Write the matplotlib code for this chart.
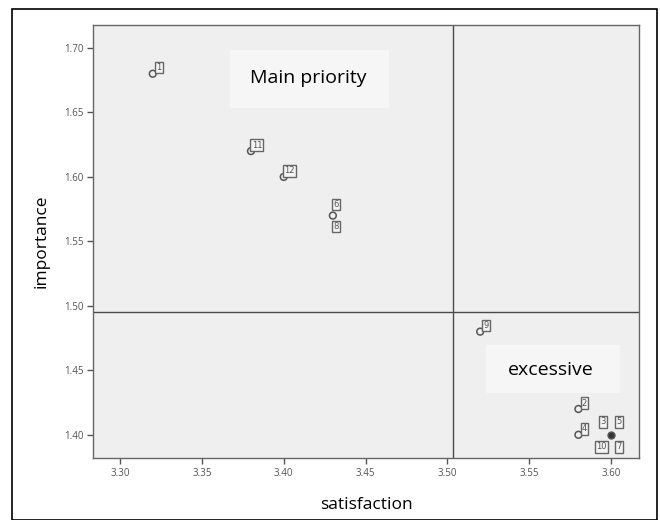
import matplotlib
matplotlib.use("Agg")
import matplotlib.pyplot as plt
from matplotlib.patches import Rectangle
import numpy as np
from collections import Counter

labels = ["1", "11", "12", "6", "8", "9", "2", "4", "3", "5", "10", "7"]
satisfaction = [3.32, 3.38, 3.40, 3.43, 3.43, 3.52, 3.58, 3.58, 3.60, 3.60, 3.60, 3.60]
importance = [1.68, 1.62, 1.60, 1.57, 1.57, 1.48, 1.42, 1.40, 1.40, 1.40, 1.40, 1.40]
x_ticks = [3.30, 3.35, 3.40, 3.45, 3.50, 3.55, 3.60]
y_ticks = [1.40, 1.45, 1.50, 1.55, 1.60, 1.65, 1.70]
x_label = "satisfaction"
y_label = "importance"
quadrant_texts = ["Main priority", "excessive"]

plt.rcParams['font.family'] = ['Open Sans', 'DejaVu Sans']

fig = plt.figure(figsize=(6.6, 5.2), dpi=100)
fig.patch.set_facecolor("white")
ax = fig.add_axes([93/660, 1-458/520, (639-93)/660, (458-25)/520])
ax.set_facecolor("#efefef")

# outer border
fig.patches.append(Rectangle((12/660, 0.0), (657-12)/660, 1-9/520, transform=fig.transFigure,
                             fill=False, edgecolor="black", lw=1.2))

ax.set_xlim(3.2835, 3.617)
ax.set_ylim(1.382, 1.7178)

mx = np.mean(satisfaction)
my = np.mean(importance)
ax.axvline(mx, color="#4a4a4a", lw=1.0, zorder=1)
ax.axhline(my, color="#4a4a4a", lw=1.0, zorder=1)

counts = Counter(zip(satisfaction, importance))
for xv, yv in counts:
    n = counts[(xv, yv)]
    fc = "#333333" if n >= 3 else "none"
    ax.scatter([xv], [yv], s=24, facecolors=fc, edgecolors="#555555", linewidths=1.1, zorder=3)

offsets = {"6": (3, 11), "8": (3, -11), "3": (-8, 13), "5": (8, 13), "10": (-10, -12), "7": (8, -12)}
for lab, xv, yv in zip(labels, satisfaction, importance):
    dx, dy = offsets.get(lab, (6, 6))
    ax.annotate(lab, (xv, yv), xytext=(dx, dy), textcoords="offset pixels",
                ha="center", va="center", fontsize=6, color="#555555",
                family=["DejaVu Sans"],
                bbox=dict(boxstyle="square,pad=0.15", fc="#f4f4f4", ec="#666666", lw=1.0),
                zorder=4)

# quadrant annotation boxes
ax.add_patch(Rectangle((3.3673, 1.6535), 3.464 - 3.3673, 1.6984 - 1.6535,
                       fc="#f6f6f6", ec="none", zorder=2))
ax.add_patch(Rectangle((3.5234, 1.4326), 3.6055 - 3.5234, 1.4698 - 1.4326,
                       fc="#f6f6f6", ec="none", zorder=2))
ax.text(3.415, 1.6767, quadrant_texts[0], ha="center", va="center", fontsize=14, color="black", zorder=2.5)
ax.text(3.5633, 1.4504, quadrant_texts[1], ha="center", va="center", fontsize=14, color="black", zorder=2.5)

ax.set_xticks(x_ticks)
ax.set_xticklabels([f"{v:.2f}" for v in x_ticks])
ax.set_yticks(y_ticks)
ax.set_yticklabels([f"{v:.2f}" for v in y_ticks])
ax.tick_params(axis="both", direction="out", length=4, width=1, color="#555555",
               labelsize=7, labelcolor="#555555", pad=3)
for sp in ax.spines.values():
    sp.set_color("#666666")
    sp.set_linewidth(1.0)

ax.set_xlabel(x_label, fontsize=12.5, labelpad=13)
ax.set_ylabel(y_label, fontsize=12.5, labelpad=10)

fig.savefig("out.png", dpi=100, facecolor="white")
